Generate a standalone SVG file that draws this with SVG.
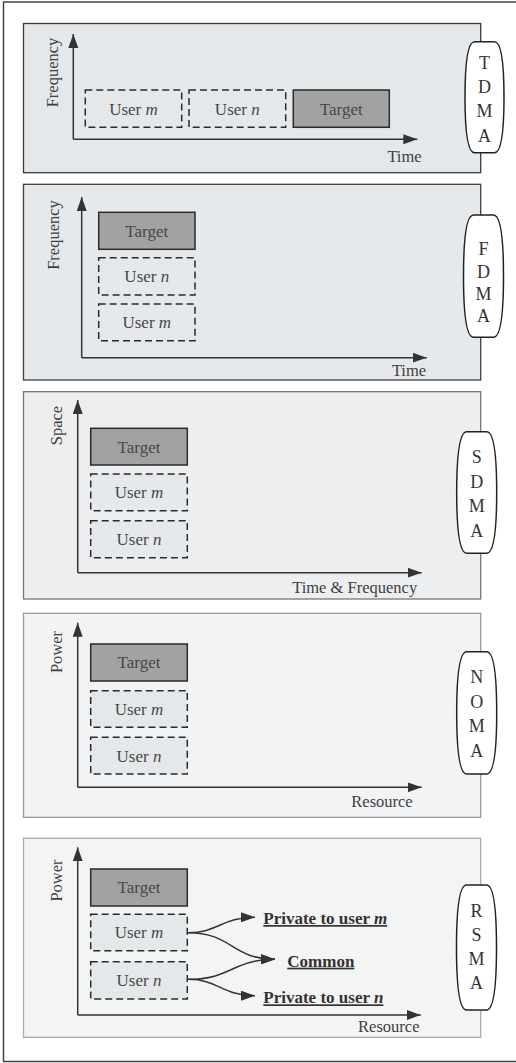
<svg xmlns="http://www.w3.org/2000/svg" width="516" height="1063" viewBox="0 0 516 1063">
<style>
text{font-family:"Liberation Serif","Times New Roman",serif}
.ax{fill:none;stroke:#333;stroke-width:1.5}
.lbl{font-size:16.5px;fill:#3f3f3f}
.bt{font-size:17px;fill:#474747;text-anchor:middle}
.tg{fill:#a2a2a2;stroke:#2a2a2a;stroke-width:1.5}
.us{stroke:#2a2a2a;stroke-width:1.5;stroke-dasharray:7 4}
.pill{fill:#fff;stroke:#222;stroke-width:1.5}
.pl{font-size:18px;fill:#333;text-anchor:middle}
.rs{font-size:17px;font-weight:bold;fill:#333;text-decoration:underline}
.cv{fill:none;stroke:#333;stroke-width:1.5}
</style>
<defs>
<marker id="ah" markerUnits="userSpaceOnUse" markerWidth="15" markerHeight="10" refX="14" refY="5" orient="auto">
<path d="M0,0 L14,5 L0,10 z" fill="#333"/>
</marker>
</defs>
<rect x="3.5" y="2" width="530" height="1059.5" fill="#fff" stroke="#444" stroke-width="1.5"/>

<g id="tdma">
<rect x="23.5" y="23.5" width="457.2" height="149.2" fill="#e5e8eb" stroke="#3a3a3a" stroke-width="1.3"/>
<path class="ax" d="M73.3,139.3 V34" marker-end="url(#ah)"/>
<path class="ax" d="M73.3,139.3 H417.3" marker-end="url(#ah)"/>
<text class="lbl" transform="translate(58,72.5) rotate(-90)" text-anchor="middle">Frequency</text>
<rect class="us" x="85.3" y="90" width="96.4" height="37.3" fill="none"/>
<text class="bt" x="133.5" y="114.5">User <tspan font-style="italic">m</tspan></text>
<rect class="us" x="189" y="90" width="96.7" height="37.3" fill="none"/>
<text class="bt" x="237.3" y="114.5">User <tspan font-style="italic">n</tspan></text>
<rect class="tg" x="293.3" y="90" width="96" height="37.3"/>
<text class="bt" x="341.3" y="114.5">Target</text>
<text class="lbl" x="404.5" y="161.7" text-anchor="middle">Time</text>
<path class="pill" d="M474.5,41.7 H494.5 C501,41.7 504,60 504,97.2 C504,134 501,152.7 494.5,152.7 H474.5 C468,152.7 465,134 465,97.2 C465,60 468,41.7 474.5,41.7 Z"/>
<text class="pl" x="484.5" y="69">T</text>
<text class="pl" x="484.5" y="93">D</text>
<text class="pl" x="484.5" y="117">M</text>
<text class="pl" x="484.5" y="141.5">A</text>
</g>

<g id="fdma">
<rect x="23.5" y="184.3" width="457.2" height="195.7" fill="#e6e9ec" stroke="#3f3f3f" stroke-width="1.3"/>
<path class="ax" d="M81.7,357.7 V197" marker-end="url(#ah)"/>
<path class="ax" d="M81.7,357.7 H426.7" marker-end="url(#ah)"/>
<text class="lbl" transform="translate(58.5,235) rotate(-90)" text-anchor="middle">Frequency</text>
<rect class="tg" x="98.7" y="212.3" width="96.3" height="37"/>
<text class="bt" x="146.8" y="236.8">Target</text>
<rect class="us" x="98.7" y="257.7" width="96.3" height="37.3" fill="none"/>
<text class="bt" x="146.8" y="282.3">User <tspan font-style="italic">n</tspan></text>
<rect class="us" x="98.7" y="304" width="96.3" height="36.7" fill="none"/>
<text class="bt" x="146.8" y="328.3">User <tspan font-style="italic">m</tspan></text>
<text class="lbl" x="409" y="376" text-anchor="middle">Time</text>
<path class="pill" d="M473.5,215 H493.5 C500,215 503.5,235 503.5,276 C503.5,317 500,337.3 493.5,337.3 H473.5 C467,337.3 463.5,317 463.5,276 C463.5,235 467,215 473.5,215 Z"/>
<text class="pl" x="483.5" y="255">F</text>
<text class="pl" x="483.5" y="277.5">D</text>
<text class="pl" x="483.5" y="300">M</text>
<text class="pl" x="483.5" y="322">A</text>
</g>

<g id="sdma">
<rect x="23.5" y="391.7" width="457.2" height="207.3" fill="#eceef0" stroke="#777" stroke-width="1.3"/>
<path class="ax" d="M77.7,572.7 V400" marker-end="url(#ah)"/>
<path class="ax" d="M77.7,572.7 H421.7" marker-end="url(#ah)"/>
<text class="lbl" transform="translate(62,425.5) rotate(-90)" text-anchor="middle">Space</text>
<rect class="tg" x="90.7" y="428.3" width="96.6" height="36.7"/>
<text class="bt" x="139" y="452.6">Target</text>
<rect class="us" x="90.7" y="474" width="96.6" height="36.7" fill="#e6e9ec"/>
<text class="bt" x="139" y="498.3">User <tspan font-style="italic">m</tspan></text>
<rect class="us" x="90.7" y="520.7" width="96.6" height="37" fill="#e6e9ec"/>
<text class="bt" x="139" y="545">User <tspan font-style="italic">n</tspan></text>
<text class="lbl" x="354.7" y="593.3" text-anchor="middle">Time &amp; Frequency</text>
<path class="pill" d="M466.7,431.7 H486.7 C493.2,431.7 496.7,452 496.7,492.5 C496.7,533 493.2,553.3 486.7,553.3 H466.7 C460.2,553.3 456.7,533 456.7,492.5 C456.7,452 460.2,431.7 466.7,431.7 Z"/>
<text class="pl" x="476.7" y="463">S</text>
<text class="pl" x="476.7" y="487.5">D</text>
<text class="pl" x="476.7" y="512">M</text>
<text class="pl" x="476.7" y="536.5">A</text>
</g>

<g id="noma">
<rect x="23.5" y="613.3" width="457.2" height="204" fill="#f2f3f4" stroke="#9a9a9a" stroke-width="1.3"/>
<path class="ax" d="M77.7,787.3 V622.7" marker-end="url(#ah)"/>
<path class="ax" d="M77.7,787.3 H421.7" marker-end="url(#ah)"/>
<text class="lbl" transform="translate(62,652) rotate(-90)" text-anchor="middle">Power</text>
<rect class="tg" x="90.7" y="644" width="96.6" height="37"/>
<text class="bt" x="139" y="668.3">Target</text>
<rect class="us" x="90.7" y="690.7" width="96.6" height="36.6" fill="#e5e8eb"/>
<text class="bt" x="139" y="714.8">User <tspan font-style="italic">m</tspan></text>
<rect class="us" x="90.7" y="737.3" width="96.6" height="36.7" fill="#e5e8eb"/>
<text class="bt" x="139" y="761.6">User <tspan font-style="italic">n</tspan></text>
<text class="lbl" x="382" y="806.7" text-anchor="middle">Resource</text>
<path class="pill" d="M466.7,651.7 H486.7 C493.2,651.7 496.7,672 496.7,712.8 C496.7,754 493.2,774 486.7,774 H466.7 C460.2,774 456.7,754 456.7,712.8 C456.7,672 460.2,651.7 466.7,651.7 Z"/>
<text class="pl" x="476.7" y="683">N</text>
<text class="pl" x="476.7" y="707.7">O</text>
<text class="pl" x="476.7" y="732">M</text>
<text class="pl" x="476.7" y="757">A</text>
</g>

<g id="rsma">
<rect x="23.5" y="838.3" width="457.2" height="199" fill="#f3f4f4" stroke="#aaa" stroke-width="1.3"/>
<path class="ax" d="M77.7,1015 V847.3" marker-end="url(#ah)"/>
<path class="ax" d="M77.7,1015 H420.7" marker-end="url(#ah)"/>
<text class="lbl" transform="translate(62,880.5) rotate(-90)" text-anchor="middle">Power</text>
<rect class="tg" x="90.7" y="869" width="96.6" height="37"/>
<text class="bt" x="139" y="893.3">Target</text>
<rect class="us" x="90.7" y="914.3" width="96.6" height="36.4" fill="#e5e8eb"/>
<text class="bt" x="139" y="938.3">User <tspan font-style="italic">m</tspan></text>
<rect class="us" x="90.7" y="961.7" width="96.6" height="37.3" fill="#e5e8eb"/>
<text class="bt" x="139" y="986">User <tspan font-style="italic">n</tspan></text>
<text class="rs" x="263.3" y="924">Private to user <tspan font-style="italic">m</tspan></text>
<text class="rs" x="287.3" y="966.7">Common</text>
<text class="rs" x="263.3" y="1003.3">Private to user <tspan font-style="italic">n</tspan></text>
<text class="lbl" x="388.8" y="1031.7" text-anchor="middle">Resource</text>
<path class="pill" d="M466.5,885 H486.5 C493,885 496.5,906 496.5,947.5 C496.5,989 493,1010 486.5,1010 H466.5 C460,1010 456.5,989 456.5,947.5 C456.5,906 460,885 466.5,885 Z"/>
<text class="pl" x="476.5" y="916.7">R</text>
<text class="pl" x="476.5" y="940.5">S</text>
<text class="pl" x="476.5" y="965">M</text>
<text class="pl" x="476.5" y="989">A</text>
</g>

<g id="connectors">
<path class="cv" d="M188.3,932.7 C218,932.7 222,917.3 255,917.3" marker-end="url(#ah)"/>
<path class="cv" d="M188.3,932.7 C232,932.7 232,959.3 275,959.3" marker-end="url(#ah)"/>
<path class="cv" d="M188.3,979.3 C232,979.3 232,959.3 275,959.3" marker-end="url(#ah)"/>
<path class="cv" d="M188.3,979.3 C218,979.3 222,995.7 255,995.7" marker-end="url(#ah)"/>
</g>
</svg>
